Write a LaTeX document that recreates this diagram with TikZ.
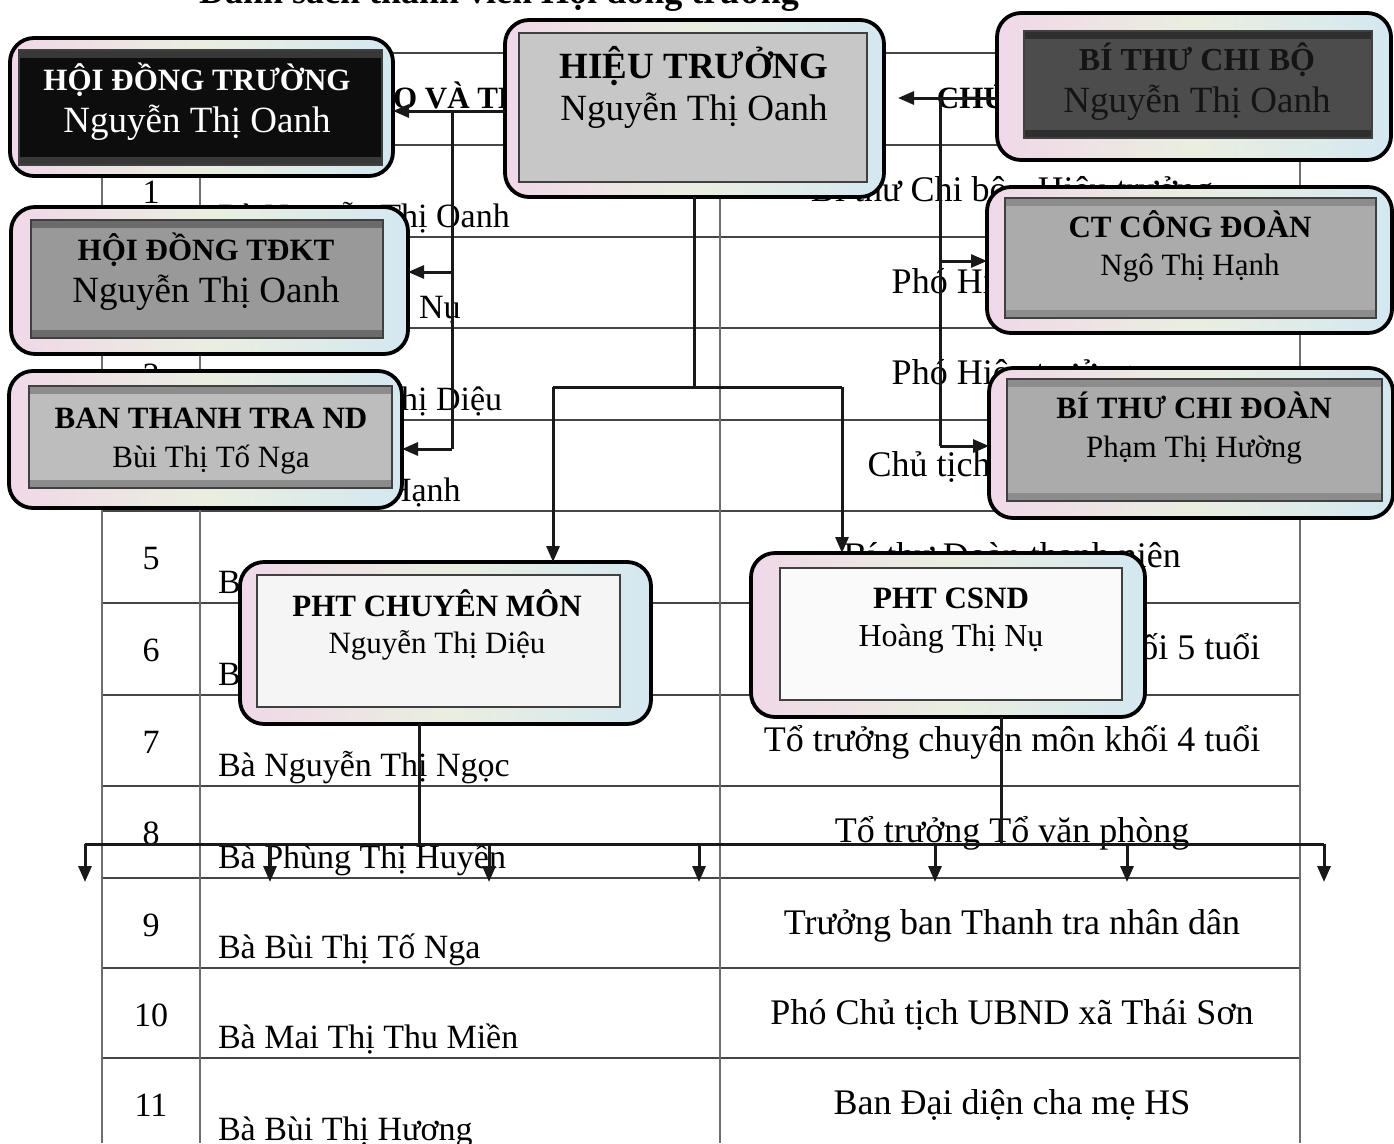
\documentclass[tikz,border=0pt]{standalone}
\usepackage{fontspec}
\setmainfont{Liberation Serif}
\usetikzlibrary{arrows.meta,calc}
\pgfdeclarelayer{bg}
\pgfsetlayers{bg,main}
\definecolor{frameA}{RGB}{240,216,232}
\definecolor{frameB}{RGB}{212,232,240}
\definecolor{frameC}{RGB}{234,238,224}
\definecolor{tlineH}{RGB}{70,70,70}
\definecolor{tlineV}{RGB}{110,110,110}
\newcommand\fsz[1]{\fontsize{#1}{#1}\selectfont}
\tikzset{
  outerbox/.style={draw=black, line width=3.8pt, rounded corners=24pt, inner sep=0pt, outer sep=0pt,
    left color=frameA, right color=frameB, middle color=frameC},
  txt/.style={inner sep=0pt, outer sep=0pt, anchor=base},
  ttl/.style={txt, font=\bfseries\fsz{31}},
  nme/.style={txt, font=\fsz{31}},
  hline/.style={draw=tlineH, line width=2pt},
  vline/.style={draw=tlineV, line width=1.3pt},
  conn/.style={draw=black!90, line width=3pt},
  arr/.style={conn, -{Triangle[length=16pt,width=13pt]}},
}
% #1 name, #2 dl, #3 dt, #4 dr, #5 db, #6 fill, #7 band colour
\newcommand\innerbox[7]{%
  \path ([shift={(#2,#3)}]#1.north west) coordinate (#1-a)
        ([shift={(-#4,-#5)}]#1.south east) coordinate (#1-b);
  \fill[#6] (#1-a) rectangle (#1-b);
  \fill[#7] (#1-a) rectangle ($(#1-b |- #1-a)+(0,8)$);
  \fill[#7] ($(#1-a |- #1-b)+(0,-8)$) rectangle (#1-b);
  \draw[line width=1.4pt, draw=black!75] (#1-a) rectangle (#1-b);
}
\begin{document}
\begin{tikzpicture}[x=1pt,y=-1pt]
\useasboundingbox (0,0) rectangle (1394,1143);
\begin{pgfonlayer}{bg}
  \fill[white] (0,0) rectangle (1394,1143);
  % title (cut by the page top)
  \node[txt, font=\bfseries\fsz{36}] (title) at (499,3) {Danh sách thành viên Hội đồng trường};
  % table grid
  \foreach \y in {53,145,237,328,420,511,603,695,786,878,968,1058}
    \draw[hline] (102,\y) -- (1300,\y);
  \foreach \x in {102,200,720,1300}
    \draw[vline] (\x,53) -- (\x,1143);
  % header
  \node[txt, font=\bfseries\fsz{31}] (h2) at (455,108) {HỌ VÀ TÊN};
  \node[txt, font=\bfseries\fsz{31}] (h3) at (1010,108) {CHỨC VỤ};
  % rows
  \foreach \i/\t/\b/\nm/\cv in {
    1/145/237/{Bà Nguyễn Thị Oanh}/{Bí thư Chi bộ - Hiệu trưởng},
    2/237/328/{Bà Hoàng Thị Nụ}/{Phó Hiệu trưởng},
    3/328/420/{Bà Nguyễn Thị Diệu}/{Phó Hiệu trưởng},
    4/420/511/{Bà Ngô Thị Hạnh}/{Chủ tịch Công đoàn},
    5/511/603/{Bà}/{Bí thư Đoàn thanh niên},
    6/603/695/{Bà}/{Tổ trưởng chuyên môn khối 5 tuổi},
    7/695/786/{Bà Nguyễn Thị Ngọc}/{Tổ trưởng chuyên môn khối 4 tuổi},
    8/786/878/{Bà Phùng Thị Huyền}/{Tổ trưởng Tổ văn phòng},
    9/878/968/{Bà Bùi Thị Tố Nga}/{Trưởng ban Thanh tra nhân dân},
    10/968/1058/{Bà Mai Thị Thu Miền}/{Phó Chủ tịch UBND xã Thái Sơn},
    11/1058/1150/{Bà Bùi Thị Hương}/{Ban Đại diện cha mẹ HS}}
  {
    \node[txt, font=\fsz{34}] (no\i) at (151,\t+58) {\i};
    \node[txt, anchor=base west, font=\fsz{34}] (nm\i) at (218,\b-10) {\nm};
    \node[txt, font=\fsz{36}] (cv\i) at (1012,\t+56) {\cv};
  }
\end{pgfonlayer}

% ---------- boxes ----------
\node[outerbox, minimum width=383pt, minimum height=138pt] (hdt) at (201.5,107) {};
\innerbox{hdt}{9}{12}{11}{11}{black!95}{black!78}
\node[ttl, text=white] (hdt-t) at (197,90) {HỘI ĐỒNG TRƯỜNG};
\node[nme, text=white, font=\fsz{37}] (hdt-n) at (197,132) {Nguyễn Thị Oanh};

\node[outerbox, minimum width=379pt, minimum height=177pt] (ht) at (694.5,108.5) {};
\innerbox{ht}{14}{13}{17}{15}{black!22}{black!22}
\node[ttl, font=\bfseries\fsz{37}] (ht-t) at (694,78) {HIỆU TRƯỞNG};
\node[nme, font=\fsz{37}] (ht-n) at (694,120) {Nguyễn Thị Oanh};

\node[outerbox, minimum width=394pt, minimum height=147pt] (btcb) at (1194,86.5) {};
\innerbox{btcb}{27}{18}{19}{22}{black!70}{black!82}
\node[ttl, font=\bfseries\fsz{32}, text=black!92] (btcb-t) at (1197,70) {BÍ THƯ CHI BỘ};
\node[nme, font=\fsz{37}, text=black!92] (btcb-n) at (1197,112) {Nguyễn Thị Oanh};

\node[outerbox, minimum width=397pt, minimum height=147pt] (tdkt) at (209.5,280.5) {};
\innerbox{tdkt}{20}{13}{25}{16}{black!40}{black!58}
\node[ttl] (tdkt-t) at (206,260) {HỘI ĐỒNG TĐKT};
\node[nme, font=\fsz{37}] (tdkt-n) at (206,302) {Nguyễn Thị Oanh};

\node[outerbox, minimum width=393pt, minimum height=137pt] (bttt) at (205.5,439.5) {};
\innerbox{bttt}{20}{15}{10}{20}{black!26}{black!45}
\node[ttl] (bttt-t) at (211,428) {BAN THANH TRA ND};
\node[nme] (bttt-n) at (211,467) {Bùi Thị Tố Nga};

\node[outerbox, minimum width=405pt, minimum height=146pt] (ctcd) at (1189.5,260) {};
\innerbox{ctcd}{18}{11}{16}{15}{black!33}{black!45}
\node[ttl] (ctcd-t) at (1190,237) {CT CÔNG ĐOÀN};
\node[nme] (ctcd-n) at (1190,275) {Ngô Thị Hạnh};

\node[outerbox, minimum width=404pt, minimum height=150pt] (btcd) at (1191,443) {};
\innerbox{btcd}{18}{11}{11}{17}{black!33}{black!45}
\node[ttl] (btcd-t) at (1194,418) {BÍ THƯ CHI ĐOÀN};
\node[nme] (btcd-n) at (1194,457) {Phạm Thị Hường};

\node[outerbox, minimum width=411pt, minimum height=162pt] (phtcm) at (445.5,643) {};
\innerbox{phtcm}{17}{13}{31}{17}{black!4}{black!4}
\node[ttl] (phtcm-t) at (437,616) {PHT CHUYÊN MÔN};
\node[nme] (phtcm-n) at (437,653) {Nguyễn Thị Diệu};

\node[outerbox, minimum width=394pt, minimum height=164pt] (phtcsnd) at (948,635) {};
\innerbox{phtcsnd}{29}{15}{23}{17}{black!2}{black!2}
\node[ttl] (phtcsnd-t) at (951,608) {PHT CSND};
\node[nme, font=\fsz{32}] (phtcsnd-n) at (951,646) {Hoàng Thị Nụ};

% ---------- connectors ----------
% Hieu truong -> Hoi dong truong, branch to TDKT and Thanh tra
\coordinate (jL) at (452,111);
\coordinate (jL1) at (452,272);
\coordinate (jL2) at (452,449);
\draw[arr] (jL -| ht.west) -- (jL -| hdt.east);
\draw[conn] (jL) -- (jL2);
\draw[arr] (jL1) -- (jL1 -| tdkt.east);
\draw[arr] (jL2) -- (jL2 -| bttt.east);

% Bi thu chi bo -> Hieu truong, branch to Cong doan and Chi doan
\coordinate (jR) at (940,98);
\coordinate (jR1) at (940,261);
\coordinate (jR2) at (940,446);
\draw[arr, shorten >=14pt] (jR -| btcb.west) -- (jR -| ht.east);
\draw[conn] (jR) -- (jR2);
\draw[arr] (jR1) -- (jR1 -| ctcd.west);
\draw[arr] (jR2) -- (jR2 -| btcd.west);

% Hieu truong -> two PHT
\coordinate (jM) at (694.5,387);
\coordinate (jML) at (553,387);
\coordinate (jMR) at (842,387);
\draw[conn] (ht.south) -- (jM);
\draw[conn] (jML) -- (jMR);
\draw[arr] (jML) -- (jML |- phtcm.north);
\draw[arr] (jMR) -- (jMR |- phtcsnd.north);

% PHT -> bottom bus
\coordinate (bL) at (419,844);
\coordinate (bR) at (1001,844);
\draw[conn] (bL |- phtcm.south) -- (bL);
\draw[conn] (bR |- phtcsnd.south) -- (bR);
\coordinate (b1) at (85,844);
\coordinate (b7) at (1324,844);
\draw[conn] (b1) -- (b7);
\foreach \k/\x in {1/85,2/270,3/489,4/699,5/935,6/1127,7/1324}{
  \coordinate (d\k) at (\x,844);
  \coordinate (e\k) at (\x,882);
  \draw[arr] (d\k) -- (e\k);
}
\end{tikzpicture}
\end{document}
